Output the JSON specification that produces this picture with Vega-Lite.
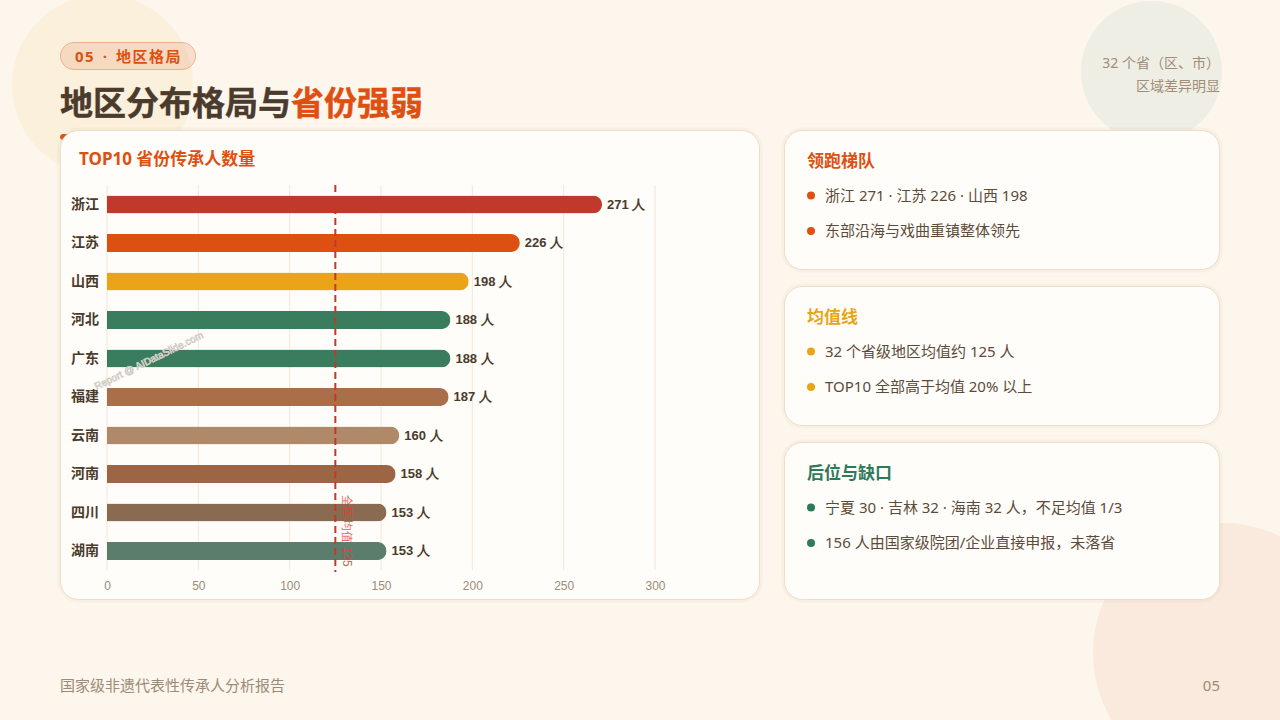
{"$schema":"https://vega.github.io/schema/vega-lite/v6.json","width":1280,"height":720,"autosize":{"type":"fit","contains":"padding"},"padding":0,"background":"#FDF6EC","config":{"view":{"stroke":null},"font":"Noto Sans, Noto Sans CJK SC"},
"datasets":{"provinces":[{"province":"浙江","count":271,"label":"271 人"},{"province":"江苏","count":226,"label":"226 人"},{"province":"山西","count":198,"label":"198 人"},{"province":"河北","count":188,"label":"188 人"},{"province":"广东","count":188,"label":"188 人"},{"province":"福建","count":187,"label":"187 人"},{"province":"云南","count":160,"label":"160 人"},{"province":"河南","count":158,"label":"158 人"},{"province":"四川","count":153,"label":"153 人"},{"province":"湖南","count":153,"label":"153 人"}]},
"layer":[
{"data":{"values":[{"text":"地区分布格局与"}]},"layer":[
{"mark":{"type":"point","shape":"circle","filled":true,"opacity":1,"size":32761,"color":"#FAF0DC","clip":true},"encoding":{"x":{"datum":102.5,"type":"quantitative","scale":{"domain":[0,1280],"range":[0,1280]},"axis":null},"y":{"datum":85,"type":"quantitative","scale":{"domain":[0,720],"range":[0,720]},"axis":null}}},
{"mark":{"type":"point","shape":"circle","filled":true,"opacity":1,"size":19881,"color":"#EEEEE4","clip":true},"encoding":{"x":{"datum":1151.5,"type":"quantitative","scale":{"domain":[0,1280],"range":[0,1280]},"axis":null},"y":{"datum":71.5,"type":"quantitative","scale":{"domain":[0,720],"range":[0,720]},"axis":null}}},
{"mark":{"type":"point","shape":"circle","filled":true,"opacity":1,"size":67600,"color":"#F9EADD","clip":true},"encoding":{"x":{"datum":1223,"type":"quantitative","scale":{"domain":[0,1280],"range":[0,1280]},"axis":null},"y":{"datum":653,"type":"quantitative","scale":{"domain":[0,720],"range":[0,720]},"axis":null}}},
{"mark":{"type":"rect","fill":"#DD5012","fillOpacity":0.14,"stroke":"#DD5012","strokeOpacity":0.35,"strokeWidth":1,"cornerRadius":14},"encoding":{"x":{"datum":60.5,"type":"quantitative","scale":{"domain":[0,1280],"range":[0,1280]},"axis":null},"x2":{"datum":195.5},"y":{"datum":42.5,"type":"quantitative","scale":{"domain":[0,720],"range":[0,720]},"axis":null},"y2":{"datum":69.5}}},
{"mark":{"type":"rect","fill":"#DD5012","cornerRadius":3},"encoding":{"x":{"datum":60,"type":"quantitative","scale":{"domain":[0,1280],"range":[0,1280]},"axis":null},"x2":{"datum":120},"y":{"datum":134,"type":"quantitative","scale":{"domain":[0,720],"range":[0,720]},"axis":null},"y2":{"datum":140}}},
{"mark":{"type":"rect","fill":"#FFFDF9","stroke":"#C9A87C","strokeOpacity":0.08,"strokeWidth":6,"cornerRadius":18},"encoding":{"x":{"datum":60.5,"type":"quantitative","scale":{"domain":[0,1280],"range":[0,1280]},"axis":null},"x2":{"datum":759.5},"y":{"datum":130.5,"type":"quantitative","scale":{"domain":[0,720],"range":[0,720]},"axis":null},"y2":{"datum":599.5}}},
{"mark":{"type":"rect","fill":"#FFFDF9","stroke":"#EBDFCC","strokeWidth":1,"cornerRadius":18},"encoding":{"x":{"datum":60.5,"type":"quantitative","scale":{"domain":[0,1280],"range":[0,1280]},"axis":null},"x2":{"datum":759.5},"y":{"datum":130.5,"type":"quantitative","scale":{"domain":[0,720],"range":[0,720]},"axis":null},"y2":{"datum":599.5}}},
{"mark":{"type":"rect","fill":"#FFFDF9","stroke":"#C9A87C","strokeOpacity":0.08,"strokeWidth":6,"cornerRadius":18},"encoding":{"x":{"datum":784.5,"type":"quantitative","scale":{"domain":[0,1280],"range":[0,1280]},"axis":null},"x2":{"datum":1219.5},"y":{"datum":130.5,"type":"quantitative","scale":{"domain":[0,720],"range":[0,720]},"axis":null},"y2":{"datum":269.5}}},
{"mark":{"type":"rect","fill":"#FFFDF9","stroke":"#EBDFCC","strokeWidth":1,"cornerRadius":18},"encoding":{"x":{"datum":784.5,"type":"quantitative","scale":{"domain":[0,1280],"range":[0,1280]},"axis":null},"x2":{"datum":1219.5},"y":{"datum":130.5,"type":"quantitative","scale":{"domain":[0,720],"range":[0,720]},"axis":null},"y2":{"datum":269.5}}},
{"mark":{"type":"rect","fill":"#FFFDF9","stroke":"#C9A87C","strokeOpacity":0.08,"strokeWidth":6,"cornerRadius":18},"encoding":{"x":{"datum":784.5,"type":"quantitative","scale":{"domain":[0,1280],"range":[0,1280]},"axis":null},"x2":{"datum":1219.5},"y":{"datum":286.5,"type":"quantitative","scale":{"domain":[0,720],"range":[0,720]},"axis":null},"y2":{"datum":425.5}}},
{"mark":{"type":"rect","fill":"#FFFDF9","stroke":"#EBDFCC","strokeWidth":1,"cornerRadius":18},"encoding":{"x":{"datum":784.5,"type":"quantitative","scale":{"domain":[0,1280],"range":[0,1280]},"axis":null},"x2":{"datum":1219.5},"y":{"datum":286.5,"type":"quantitative","scale":{"domain":[0,720],"range":[0,720]},"axis":null},"y2":{"datum":425.5}}},
{"mark":{"type":"rect","fill":"#FFFDF9","stroke":"#C9A87C","strokeOpacity":0.08,"strokeWidth":6,"cornerRadius":18},"encoding":{"x":{"datum":784.5,"type":"quantitative","scale":{"domain":[0,1280],"range":[0,1280]},"axis":null},"x2":{"datum":1219.5},"y":{"datum":442.5,"type":"quantitative","scale":{"domain":[0,720],"range":[0,720]},"axis":null},"y2":{"datum":599.5}}},
{"mark":{"type":"rect","fill":"#FFFDF9","stroke":"#EBDFCC","strokeWidth":1,"cornerRadius":18},"encoding":{"x":{"datum":784.5,"type":"quantitative","scale":{"domain":[0,1280],"range":[0,1280]},"axis":null},"x2":{"datum":1219.5},"y":{"datum":442.5,"type":"quantitative","scale":{"domain":[0,720],"range":[0,720]},"axis":null},"y2":{"datum":599.5}}},
{"data":{"values":[{"t":"0\u200a5\u2002\u200a·\u2002\u200a地\u200a区\u200a格\u200a局"}]},"mark":{"type":"text","align":"left","baseline":"middle","fontSize":15,"fontWeight":"bold","color":"#DD5012"},"encoding":{"text":{"field":"t"},"x":{"datum":75,"type":"quantitative","scale":{"domain":[0,1280],"range":[0,1280]},"axis":null},"y":{"datum":57,"type":"quantitative","scale":{"domain":[0,720],"range":[0,720]},"axis":null}}},
{"data":{"values":[{"t":"地区分布格局与"}]},"mark":{"type":"text","align":"left","baseline":"middle","fontSize":33,"fontWeight":"bold","color":"#4A3B2C","stroke":"#4A3B2C","strokeWidth":0.4},"encoding":{"text":{"field":"t"},"x":{"datum":60,"type":"quantitative","scale":{"domain":[0,1280],"range":[0,1280]},"axis":null},"y":{"datum":104.5,"type":"quantitative","scale":{"domain":[0,720],"range":[0,720]},"axis":null}}},
{"data":{"values":[{"t":"省份强弱"}]},"mark":{"type":"text","align":"left","baseline":"middle","fontSize":33,"fontWeight":"bold","color":"#DD5012","stroke":"#DD5012","strokeWidth":0.4},"encoding":{"text":{"field":"t"},"x":{"datum":291,"type":"quantitative","scale":{"domain":[0,1280],"range":[0,1280]},"axis":null},"y":{"datum":104.5,"type":"quantitative","scale":{"domain":[0,720],"range":[0,720]},"axis":null}}},
{"data":{"values":[{"t":"32 个省（区、市）"}]},"mark":{"type":"text","align":"right","baseline":"middle","fontSize":14,"color":"#A08D78"},"encoding":{"text":{"field":"t"},"x":{"datum":1220,"type":"quantitative","scale":{"domain":[0,1280],"range":[0,1280]},"axis":null},"y":{"datum":64,"type":"quantitative","scale":{"domain":[0,720],"range":[0,720]},"axis":null}}},
{"data":{"values":[{"t":"区域差异明显"}]},"mark":{"type":"text","align":"right","baseline":"middle","fontSize":14,"color":"#A08D78"},"encoding":{"text":{"field":"t"},"x":{"datum":1220,"type":"quantitative","scale":{"domain":[0,1280],"range":[0,1280]},"axis":null},"y":{"datum":87,"type":"quantitative","scale":{"domain":[0,720],"range":[0,720]},"axis":null}}},
{"data":{"values":[{"t":"国家级非遗代表性传承人分析报告"}]},"mark":{"type":"text","align":"left","baseline":"middle","fontSize":15,"color":"#9C8B78"},"encoding":{"text":{"field":"t"},"x":{"datum":60,"type":"quantitative","scale":{"domain":[0,1280],"range":[0,1280]},"axis":null},"y":{"datum":686,"type":"quantitative","scale":{"domain":[0,720],"range":[0,720]},"axis":null}}},
{"data":{"values":[{"t":"05"}]},"mark":{"type":"text","align":"right","baseline":"middle","fontSize":15,"color":"#9C8B78"},"encoding":{"text":{"field":"t"},"x":{"datum":1220,"type":"quantitative","scale":{"domain":[0,1280],"range":[0,1280]},"axis":null},"y":{"datum":685.5,"type":"quantitative","scale":{"domain":[0,720],"range":[0,720]},"axis":null}}},
{"data":{"values":[{"t":"TOP10 省份传承人数量"}]},"mark":{"type":"text","align":"left","baseline":"middle","fontSize":17,"fontWeight":"bold","color":"#DD5012"},"encoding":{"text":{"field":"t"},"x":{"datum":79,"type":"quantitative","scale":{"domain":[0,1280],"range":[0,1280]},"axis":null},"y":{"datum":160,"type":"quantitative","scale":{"domain":[0,720],"range":[0,720]},"axis":null}}},
{"data":{"values":[{"t":"领跑梯队"}]},"mark":{"type":"text","align":"left","baseline":"middle","fontSize":17,"fontWeight":"bold","color":"#DD5012"},"encoding":{"text":{"field":"t"},"x":{"datum":807,"type":"quantitative","scale":{"domain":[0,1280],"range":[0,1280]},"axis":null},"y":{"datum":162,"type":"quantitative","scale":{"domain":[0,720],"range":[0,720]},"axis":null}}},
{"data":{"values":[{"t":"均值线"}]},"mark":{"type":"text","align":"left","baseline":"middle","fontSize":17,"fontWeight":"bold","color":"#E9A517"},"encoding":{"text":{"field":"t"},"x":{"datum":807,"type":"quantitative","scale":{"domain":[0,1280],"range":[0,1280]},"axis":null},"y":{"datum":318,"type":"quantitative","scale":{"domain":[0,720],"range":[0,720]},"axis":null}}},
{"data":{"values":[{"t":"后位与缺口"}]},"mark":{"type":"text","align":"left","baseline":"middle","fontSize":17,"fontWeight":"bold","color":"#2F7A5C"},"encoding":{"text":{"field":"t"},"x":{"datum":807,"type":"quantitative","scale":{"domain":[0,1280],"range":[0,1280]},"axis":null},"y":{"datum":474,"type":"quantitative","scale":{"domain":[0,720],"range":[0,720]},"axis":null}}}
]},
{"data":{"values":[{"tick":0},{"tick":50},{"tick":100},{"tick":150},{"tick":200},{"tick":250},{"tick":300}]},"mark":{"type":"rule","color":"#F3E6D6","strokeWidth":1},"encoding":{"x":{"field":"tick","type":"quantitative","scale":{"domain":[0,300],"range":[107,655]},"axis":null},"y":{"datum":185,"type":"quantitative","scale":{"domain":[0,720],"range":[0,720]},"axis":null},"y2":{"datum":570}}},
{"data":{"name":"provinces"},"mark":{"type":"bar","size":18,"cornerRadiusEnd":9},"encoding":{"y":{"field":"province","type":"nominal","sort":null,"scale":{"domain":["浙江","江苏","山西","河北","广东","福建","云南","河南","四川","湖南"],"range":[185.3,570.3]},"axis":{"title":null,"orient":"left","offset":-107,"zindex":1,"domain":false,"ticks":false,"labelPadding":8.5,"labelFontSize":14,"labelFontWeight":"bold","labelColor":"#4A3B2C","labelFont":"Noto Sans CJK SC"}},"x":{"field":"count","type":"quantitative","scale":{"domain":[0,300],"range":[107,655]},"axis":{"title":null,"orient":"bottom","offset":-150,"zindex":1,"values":[0,50,100,150,200,250,300],"grid":false,"domain":false,"ticks":false,"labelFlush":false,"labelOverlap":false,"labelPadding":10,"labelFontSize":12,"labelColor":"#9C8B78","labelFont":"Liberation Sans"}},"color":{"field":"province","type":"nominal","legend":null,"scale":{"domain":["浙江","江苏","山西","河北","广东","福建","云南","河南","四川","湖南"],"range":["#C0392B","#DD5012","#E9A517","#3A7D5E","#3A7D5E","#A86F4A","#B08968","#9C6644","#8A6A50","#5A7D6C"]}}}},
{"data":{"name":"provinces"},"mark":{"type":"text","align":"left","baseline":"middle","dx":5,"fontSize":13,"fontWeight":"bold","font":"Liberation Sans","color":"#4A3B2C"},"encoding":{"text":{"field":"label"},"y":{"field":"province","type":"nominal","sort":null,"scale":{"domain":["浙江","江苏","山西","河北","广东","福建","云南","河南","四川","湖南"],"range":[185.3,570.3]},"axis":null},"x":{"field":"count","type":"quantitative","scale":{"domain":[0,300],"range":[107,655]},"axis":null}}},
{"data":{"values":[{"mean":125,"label":"全国均值 125"}]},"layer":[
{"mark":{"type":"rule","color":"#C0392B","strokeWidth":2,"strokeDash":[7,4]},"encoding":{"x":{"field":"mean","type":"quantitative","scale":{"domain":[0,300],"range":[107,655]},"axis":null},"y":{"datum":185,"type":"quantitative","scale":{"domain":[0,720],"range":[0,720]},"axis":null},"y2":{"datum":572}}},
{"mark":{"type":"text","angle":90,"align":"center","baseline":"middle","dy":-12,"fontSize":12,"font":"Liberation Sans","color":"#D9463A","opacity":0.85},"encoding":{"text":{"field":"label"},"x":{"field":"mean","type":"quantitative","scale":{"domain":[0,300],"range":[107,655]},"axis":null},"y":{"datum":531,"type":"quantitative","scale":{"domain":[0,720],"range":[0,720]},"axis":null}}}
]},
{"data":{"values":[{"t":"Report @ AIDataSlide.com"}]},"mark":{"type":"text","angle":-26,"align":"center","baseline":"middle","fontSize":10,"font":"Liberation Sans","color":"#FFFFFF","stroke":"#CFC9C2","strokeWidth":0.7},"encoding":{"text":{"field":"t"},"x":{"datum":149,"type":"quantitative","scale":{"domain":[0,1280],"range":[0,1280]},"axis":null},"y":{"datum":361,"type":"quantitative","scale":{"domain":[0,720],"range":[0,720]},"axis":null}}},
{"data":{"values":[{"line":"浙江 271 · 江苏 226 · 山西 198"},{"line":"东部沿海与戏曲重镇整体领先"}]},"encoding":{"y":{"field":"line","type":"nominal","sort":null,"scale":{"type":"point","padding":0,"domain":["浙江 271 · 江苏 226 · 山西 198","东部沿海与戏曲重镇整体领先"],"range":[195.5,231]},"axis":null}},"layer":[
{"mark":{"type":"point","shape":"circle","filled":true,"opacity":1,"size":64,"color":"#DD5012"},"encoding":{"x":{"datum":811,"type":"quantitative","scale":{"domain":[0,1280],"range":[0,1280]},"axis":null}}},
{"mark":{"type":"text","align":"left","baseline":"middle","fontSize":15,"color":"#5C4B3A"},"encoding":{"text":{"field":"line"},"x":{"datum":825,"type":"quantitative","scale":{"domain":[0,1280],"range":[0,1280]},"axis":null}}}
]},
{"data":{"values":[{"line":"32 个省级地区均值约 125 人"},{"line":"TOP10 全部高于均值 20% 以上"}]},"encoding":{"y":{"field":"line","type":"nominal","sort":null,"scale":{"type":"point","padding":0,"domain":["32 个省级地区均值约 125 人","TOP10 全部高于均值 20% 以上"],"range":[351.5,387]},"axis":null}},"layer":[
{"mark":{"type":"point","shape":"circle","filled":true,"opacity":1,"size":64,"color":"#E9A517"},"encoding":{"x":{"datum":811,"type":"quantitative","scale":{"domain":[0,1280],"range":[0,1280]},"axis":null}}},
{"mark":{"type":"text","align":"left","baseline":"middle","fontSize":15,"color":"#5C4B3A"},"encoding":{"text":{"field":"line"},"x":{"datum":825,"type":"quantitative","scale":{"domain":[0,1280],"range":[0,1280]},"axis":null}}}
]},
{"data":{"values":[{"line":"宁夏 30 · 吉林 32 · 海南 32 人，不足均值 1/3"},{"line":"156 人由国家级院团/企业直接申报，未落省"}]},"encoding":{"y":{"field":"line","type":"nominal","sort":null,"scale":{"type":"point","padding":0,"domain":["宁夏 30 · 吉林 32 · 海南 32 人，不足均值 1/3","156 人由国家级院团/企业直接申报，未落省"],"range":[507.5,543]},"axis":null}},"layer":[
{"mark":{"type":"point","shape":"circle","filled":true,"opacity":1,"size":64,"color":"#2F7A5C"},"encoding":{"x":{"datum":811,"type":"quantitative","scale":{"domain":[0,1280],"range":[0,1280]},"axis":null}}},
{"mark":{"type":"text","align":"left","baseline":"middle","fontSize":15,"color":"#5C4B3A"},"encoding":{"text":{"field":"line"},"x":{"datum":825,"type":"quantitative","scale":{"domain":[0,1280],"range":[0,1280]},"axis":null}}}
]}
],"resolve":{"scale":{"x":"independent","y":"independent"},"axis":{"x":"independent","y":"independent"}}}
